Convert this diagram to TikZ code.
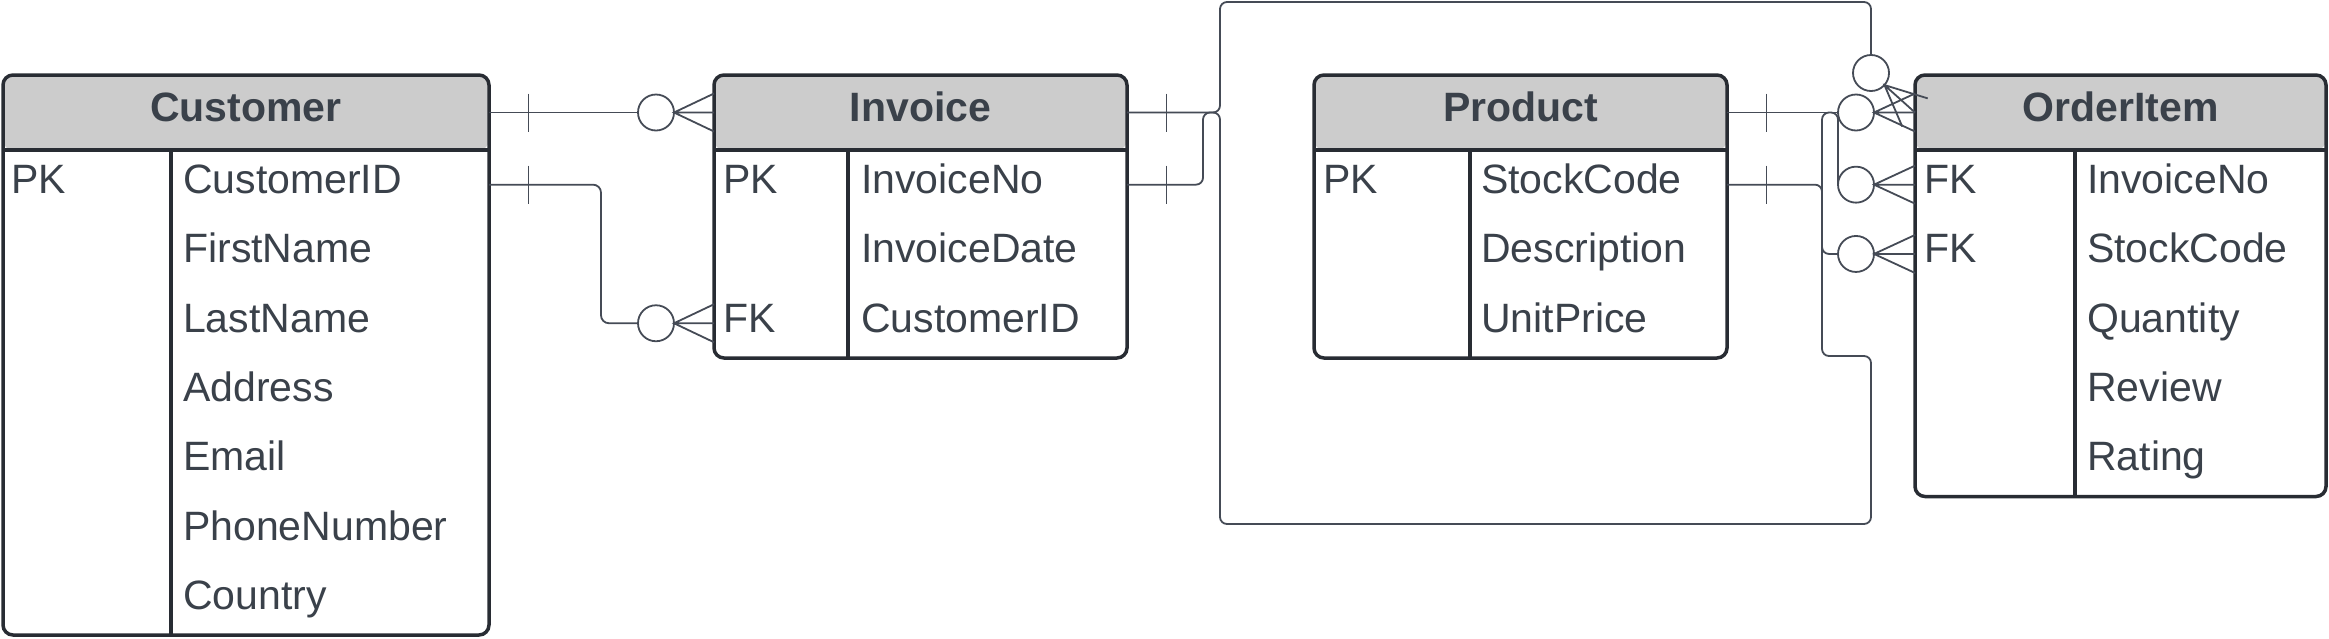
\documentclass[tikz,border=0pt]{standalone}
\usepackage{fontspec}
\setmainfont{Liberation Sans}
\usetikzlibrary{calc}

\definecolor{inkgray}{HTML}{3A414A}
\definecolor{edgegray}{HTML}{282C33}
\definecolor{linkgray}{HTML}{454B56}
\definecolor{headgray}{HTML}{CCCCCC}

\tikzset{
  tablebox/.style={draw=edgegray, line width=3.5pt, rounded corners=10pt, fill=white,
    anchor=north west, inner sep=0pt, outer sep=0pt,
    path picture={\fill[headgray] (path picture bounding box.north west)
      rectangle ([yshift=-75pt]path picture bounding box.north east);}},
  tblline/.style={draw=edgegray, line width=3.2pt},
  title/.style={inner sep=0pt, text height=27pt, text depth=9pt, text=inkgray,
    font=\fontsize{41}{49}\selectfont\bfseries},
  cell/.style={anchor=west, inner sep=0pt, text height=27pt, text depth=9pt, text=inkgray,
    font=\fontsize{41}{49}\selectfont},
  conn/.style={draw=linkgray, line width=1.8pt},
  ring/.style={circle, draw=linkgray, line width=1.8pt, fill=white, minimum size=36pt,
    inner sep=0pt, outer sep=0pt},
}

\begin{document}
\begin{tikzpicture}[x=1pt, y=-1pt]
\useasboundingbox (0,0) rectangle (2329,638);

% tables
\node[tablebox, minimum width=486pt, minimum height=560pt] (customer) at (3,75) {};
\node[tablebox, minimum width=413pt, minimum height=283pt] (invoice) at (714,75) {};
\node[tablebox, minimum width=413pt, minimum height=283pt] (product) at (1314,75) {};
\node[tablebox, minimum width=411pt, minimum height=421.5pt] (orderitem) at (1915,75) {};

\foreach \t/\d in {customer/168, invoice/134, product/156, orderitem/160} {
  \draw[tblline] ([yshift=-75pt]\t.north west) -- ([yshift=-75pt]\t.north east);
  \draw[tblline] ([xshift=\d pt,yshift=-75pt]\t.north west) -- ([xshift=\d pt]\t.south west);
}

\node[title] (customer-title) at ([yshift=-37.5pt]customer.north) {Customer};
\node[title] (invoice-title) at ([yshift=-37.5pt]invoice.north) {Invoice};
\node[title] (product-title) at ([yshift=-37.5pt]product.north) {Product};
\node[title] (orderitem-title) at ([yshift=-37.5pt]orderitem.north) {OrderItem};

% keys
\node[cell] (customer-k1) at ([xshift=8pt,yshift=-109.65pt]customer.north west) {PK};
\node[cell] (invoice-k1) at ([xshift=9pt,yshift=-109.65pt]invoice.north west) {PK};
\node[cell] (invoice-k3) at ([xshift=9pt,yshift=-248.25pt]invoice.north west) {FK};
\node[cell] (product-k1) at ([xshift=9pt,yshift=-109.65pt]product.north west) {PK};
\node[cell] (orderitem-k1) at ([xshift=9pt,yshift=-109.65pt]orderitem.north west) {FK};
\node[cell] (orderitem-k2) at ([xshift=9pt,yshift=-178.95pt]orderitem.north west) {FK};

% fields
\foreach \f [count=\i] in {CustomerID,FirstName,LastName,Address,Email,PhoneNumber,Country}
  \node[cell] (customer-f\i) at ([xshift=180pt,yshift={-40.35pt-69.3pt*\i}]customer.north west) {\f};
\foreach \f [count=\i] in {InvoiceNo,InvoiceDate,CustomerID}
  \node[cell] (invoice-f\i) at ([xshift=147pt,yshift={-40.35pt-69.3pt*\i}]invoice.north west) {\f};
\foreach \f [count=\i] in {StockCode,Description,UnitPrice}
  \node[cell] (product-f\i) at ([xshift=167pt,yshift={-40.35pt-69.3pt*\i}]product.north west) {\f};
\foreach \f [count=\i] in {InvoiceNo,StockCode,Quantity,Review,Rating}
  \node[cell] (orderitem-f\i) at ([xshift=172pt,yshift={-40.35pt-69.3pt*\i}]orderitem.north west) {\f};

% zero-or-many ends
\coordinate (oi-hd) at (orderitem.west |- orderitem-title);
\node[ring] (c1) at ([xshift=-58pt]invoice.west |- invoice-title) {};
\node[ring] (c2) at ([xshift=-58pt]invoice.west |- invoice-k3) {};
\node[ring] (c3) at ([xshift=-44pt,yshift=39.5pt]oi-hd) {};
\node[ring] (c4) at ([xshift=-59pt]oi-hd) {};
\node[ring] (c5) at ([xshift=-59pt]orderitem.west |- orderitem-k1) {};
\node[ring] (c6) at ([xshift=-59pt]orderitem.west |- orderitem-k2) {};

\foreach \c/\t in {c1/invoice, c2/invoice, c4/orderitem, c5/orderitem, c6/orderitem}
  \draw[conn] ([yshift=19pt]\t.west |- \c) -- (\c.east) -- ([yshift=-19pt]\t.west |- \c)
    (\c.east) -- (\t.west |- \c);
\coordinate (c3-tip) at ($(c3)!18pt!(oi-hd)$);
\draw[conn] ($(oi-hd)!19pt!90:(c3-tip)$) -- (c3-tip) -- ($(oi-hd)!19pt!-90:(c3-tip)$)
  (c3-tip) -- (oi-hd);

% one-only bars
\foreach \t/\r in {customer/title, customer/k1, invoice/title, invoice/k1, product/title, product/k1}
  \draw[conn] ([xshift=39.5pt,yshift=19pt]\t.east |- \t-\r) -- ++(0,38);

% relationships
\draw[conn] (customer.east |- customer-title) -- (c1);
\draw[conn, rounded corners=8pt] (customer.east |- customer-k1) -| ([xshift=112pt]customer.east |- c2) -- (c2);
\draw[conn, rounded corners=7pt] (invoice.east |- invoice-title) -- ++(93,0) |- (c3 |- 0,2) -- (c3);
\draw[conn, rounded corners=7pt] (invoice.east |- invoice-k1) -- ++(76,0)
  |- ([xshift=93pt]invoice.east |- invoice-title) |- (c3 |- 0,524) -- ++(0,-168)
  -| ([xshift=-16pt]c4.west) -- (c4.west) -- (c5.west);
\draw[conn] (product.east |- product-title) -- (c4);
\draw[conn, rounded corners=7pt] (product.east |- product-k1) -| ([xshift=-16pt]c6.west) -- (c6);
\end{tikzpicture}
\end{document}
